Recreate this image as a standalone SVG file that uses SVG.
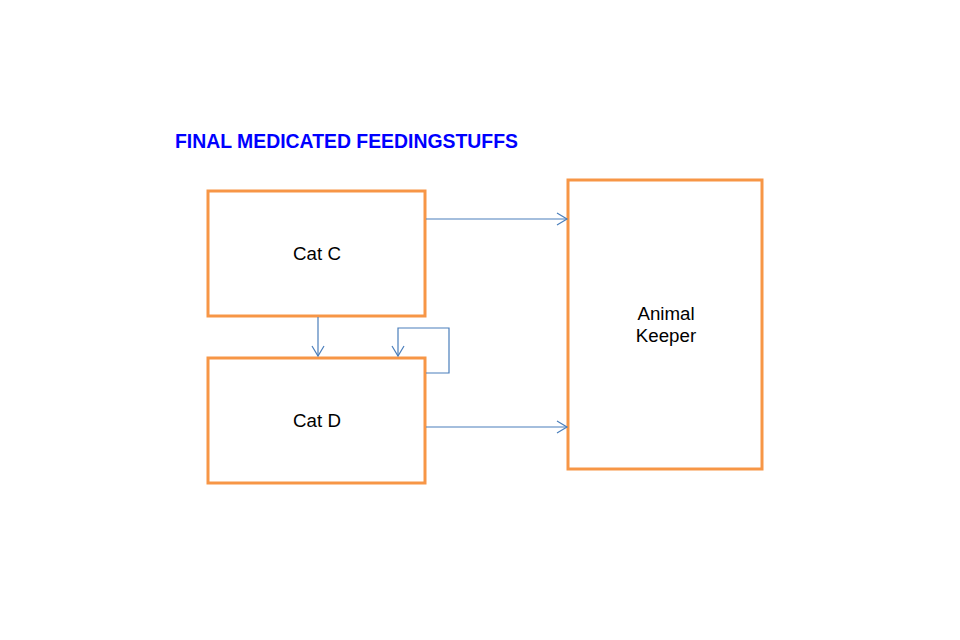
<svg xmlns="http://www.w3.org/2000/svg" width="960" height="640" viewBox="0 0 960 640">
<style>
.box{fill:#fff;stroke:#F79646;stroke-width:3}
.lbl{font-family:"Liberation Sans",Arial,sans-serif;font-size:18.7px;fill:#000;text-anchor:middle}
.con{fill:none;stroke:#4A7EBB;stroke-width:1.2}
.title{font-family:"Liberation Sans",Arial,sans-serif;font-size:19.4px;font-weight:bold;fill:#0000FF}
</style>
<defs>
<marker id="arr" markerWidth="14" markerHeight="14" refX="11" refY="7" orient="auto" markerUnits="userSpaceOnUse">
<path d="M1,1 L11,7 L1,13" fill="none" stroke="#4A7EBB" stroke-width="1.2"/>
</marker>
</defs>
<rect width="960" height="640" fill="#fff"/>
<text class="title" x="175" y="148">FINAL MEDICATED FEEDINGSTUFFS</text>
<g id="catC"><rect class="box" x="208" y="191" width="217" height="125"/><text class="lbl" x="317" y="260">Cat C</text></g>
<g id="catD"><rect class="box" x="208" y="358" width="217" height="125"/><text class="lbl" x="317" y="427">Cat D</text></g>
<g id="keeper"><rect class="box" x="568" y="180" width="194" height="289"/><text class="lbl" x="666" y="320">Animal</text><text class="lbl" x="666" y="342">Keeper</text></g>
<g id="connectors">
<path class="con" d="M426,219 H567" marker-end="url(#arr)"/>
<path class="con" d="M426,427 H567" marker-end="url(#arr)"/>
<path class="con" d="M318,317 V356" marker-end="url(#arr)"/>
<path class="con" d="M426,373 H449 V328 H398 V356" marker-end="url(#arr)"/>
</g>
</svg>
